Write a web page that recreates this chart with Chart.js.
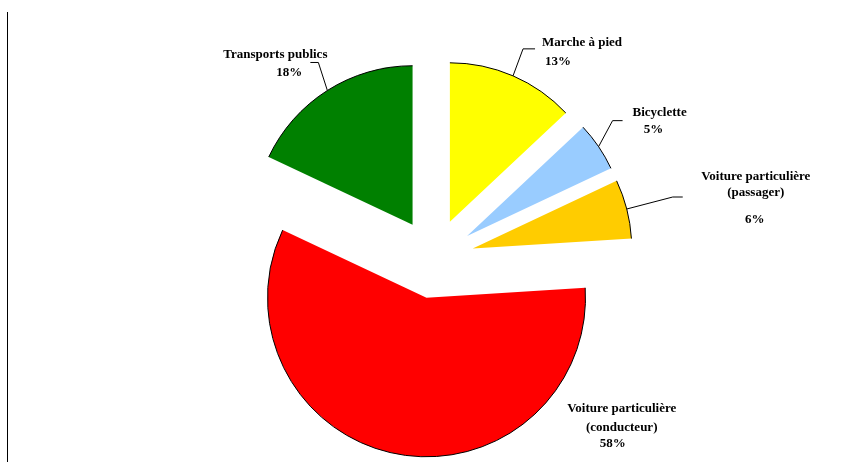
<!DOCTYPE html>
<html>
<head>
<meta charset="utf-8">
<script src="https://cdn.jsdelivr.net/npm/chart.js@4/dist/chart.umd.min.js"></script>
<style>
  html, body { margin: 0; padding: 0; background: #fff; }
  #wrap { width: 857px; height: 468px; position: relative; }
</style>
</head>
<body>
<div id="wrap"><canvas id="camembert"></canvas></div>
<script>
// parts modales des déplacements (%)
var modes = ['Marche à pied', 'Bicyclette', ['Voiture particulière', '(passager)'],
             ['Voiture particulière', '(conducteur)'], 'Transports publics'];
var parts = [13, 5, 6, 58, 18];
var couleurs = ['#FFFF00', '#99CCFF', '#FFCC00', '#FF0000', '#008000'];

var ECART = 40;      // éclatement des parts, px
var RAYON = 159;

// placement des étiquettes : coude du trait de rappel, longueur du palier, lignes de texte
// (tout est relatif au point d'accroche sur l'arc)
var etiquettes = [
  { coude: [10, -27], palier: 12, lignes: [[69, -33], [45, -14]] },
  { coude: [14, -26], palier: 10, lignes: [[61, -34], [55, -17]] },
  { coude: [46, -12], palier: 10, lignes: [[129, -32], [129, -16], [128, 11]] },
  { coude: null, palier: 0, lignes: [[225, -45], [225, -26], [216, -10]] },
  { coude: [-9, -28], palier: -8, lignes: [[-52, -36], [-38, -18]] }
];

// décale chaque part le long de sa bissectrice
var eclatement = {
  id: 'eclatement',
  afterDatasetUpdate: function(chart, args) {
    args.meta.data.forEach(function(arc) {
      var mid = (arc.startAngle + arc.endAngle) / 2;
      arc.x += Math.cos(mid) * ECART;
      arc.y += Math.sin(mid) * ECART;
    });
  }
};

var cadre = {
  id: 'cadre',
  beforeDraw: function(chart) {
    var ctx = chart.ctx;
    ctx.save();
    ctx.strokeStyle = '#000';
    ctx.lineWidth = 1;
    ctx.beginPath();
    ctx.moveTo(7.5, 12);
    ctx.lineTo(7.5, 462);
    ctx.stroke();
    ctx.restore();
  }
};

// contour extérieur des parts + étiquettes
var etiquettesPlugin = {
  id: 'etiquettes',
  afterDatasetsDraw: function(chart) {
    var ctx = chart.ctx;
    var arcs = chart.getDatasetMeta(0).data;
    ctx.save();
    ctx.strokeStyle = '#000';
    ctx.lineWidth = 1;
    arcs.forEach(function(arc) {
      ctx.beginPath();
      ctx.arc(arc.x, arc.y, arc.outerRadius, arc.startAngle, arc.endAngle);
      ctx.stroke();
    });

    ctx.fillStyle = '#000';
    ctx.font = 'bold 13px "Liberation Serif", "Times New Roman", serif';
    ctx.textAlign = 'center';
    ctx.textBaseline = 'middle';
    arcs.forEach(function(arc, i) {
      var mid = (arc.startAngle + arc.endAngle) / 2;
      var ax = arc.x + Math.cos(mid) * arc.outerRadius;
      var ay = arc.y + Math.sin(mid) * arc.outerRadius;
      var e = etiquettes[i];
      if (e.coude) {
        ctx.beginPath();
        ctx.moveTo(ax, ay);
        ctx.lineTo(ax + e.coude[0], ay + e.coude[1]);
        ctx.lineTo(ax + e.coude[0] + e.palier, ay + e.coude[1]);
        ctx.stroke();
      }
      var txt = [].concat(modes[i]);
      txt.push(parts[i] + '%');
      txt.forEach(function(t, k) {
        ctx.fillText(t, ax + e.lignes[k][0], ay + e.lignes[k][1]);
      });
    });
    ctx.restore();
  }
};

new Chart(document.getElementById('camembert'), {
  type: 'pie',
  data: {
    labels: modes,
    datasets: [{
      data: parts,
      backgroundColor: couleurs,
      borderWidth: 0
    }]
  },
  options: {
    responsive: true,
    maintainAspectRatio: false,
    animation: false,
    events: [],
    radius: RAYON,
    layout: { padding: { left: 11, top: 49, right: 0, bottom: 0 } },
    plugins: {
      legend: { display: false },
      tooltip: { enabled: false }
    }
  },
  plugins: [eclatement, cadre, etiquettesPlugin]
});
</script>
</body>
</html>
